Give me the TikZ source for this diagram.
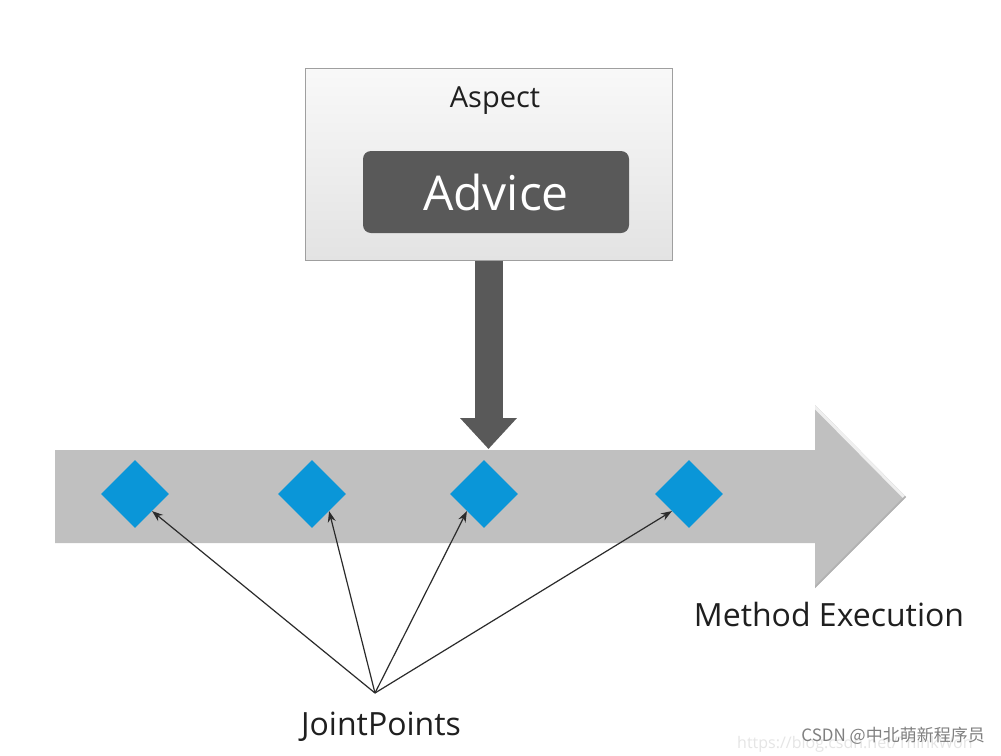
\documentclass[tikz,border=0pt]{standalone}
\usepackage{fontspec}
\setmainfont{Open Sans}
\newfontfamily\cjkfont{Noto Sans CJK SC}
\usetikzlibrary{arrows.meta,shapes.geometric}
\definecolor{aoblue}{HTML}{0A96D8}
\definecolor{aodark}{HTML}{595959}
\definecolor{aoflow}{HTML}{C0C0C0}
\definecolor{aoink}{HTML}{2B2B2B}

\begin{document}
\begin{tikzpicture}[
  x=1pt, y=-1pt,
  aspectbox/.style = {rectangle, draw=gray!75, line width=1pt, top color=gray!5,
                      bottom color=gray!22, minimum width=367pt, minimum height=192pt,
                      inner sep=0pt},
  advicebox/.style = {rectangle, rounded corners=8pt, fill=aodark, text=white,
                      font=\fontsize{48}{56}\selectfont, minimum width=266pt,
                      minimum height=82pt, inner sep=0pt},
  joint/.style     = {diamond, fill=aoblue, minimum width=68pt, minimum height=68pt,
                      inner sep=0pt},
  textlbl/.style   = {font=\fontsize{32}{38}\selectfont, text=black!88, inner sep=0pt},
  push/.style      = {-{Triangle[width=55pt,length=31pt]}, draw=aodark, line width=28pt},
  ptr/.style       = {-{Stealth[length=11pt,width=8pt]}, draw=aoink, line width=1.2pt},
]
\useasboundingbox[fill=white] (0,0) rectangle (1001,755);

% the execution flow
\begin{scope}
  \clip (55,450) -- (815,450) -- (815,405) -- (906,497) -- (815,588)
    -- (815,543) -- (55,543) -- cycle;
  \fill[aoflow] (50,400) rectangle (910,590);
  \draw[white!75!aoflow, line width=6pt] (815,405) -- (906,497);
  \draw[aoflow!92!black, line width=3pt] (815,588) -- (906,497);
\end{scope}

% aspect and its advice
\node[aspectbox] (aspect) at (488.5,164) {};
\node[font=\fontsize{29}{34}\selectfont, text=black!88, inner sep=0pt] (title) at (495,101) {Aspect};
\node[advicebox] (advice) at (496,192) {Advice};
\coordinate (hit) at (488,449);
\draw[push] (aspect.south) -- (aspect.south |- hit);

% join points
\foreach \x/\n in {135/1, 312/2, 484/3, 689/4}
  \node[joint] (d\n) at (\x,494) {};

\coordinate (jp) at (375,693);
\draw[ptr] (jp) -- (d1.south east);
\draw[ptr] (jp) -- (d2.south east);
\draw[ptr] (jp) -- (d3.south west);
\draw[ptr] (jp) -- (d4.south west);

\node[textlbl] (points) at (381,727) {JointPoints};
\node[textlbl] (method) at (829,614) {Method Execution};

% watermark
\node[anchor=west, inner sep=0pt, text=gray!20, font=\fontsize{16}{19}\selectfont] (url) at (737,744) {https://blog.csdn.net/ThinkWon};
\node[anchor=east, inner sep=0pt, text=gray, font=\cjkfont\fontsize{17}{20}\selectfont] (mark) at (985,736) {CSDN @中北萌新程序员};
\end{tikzpicture}
\end{document}
